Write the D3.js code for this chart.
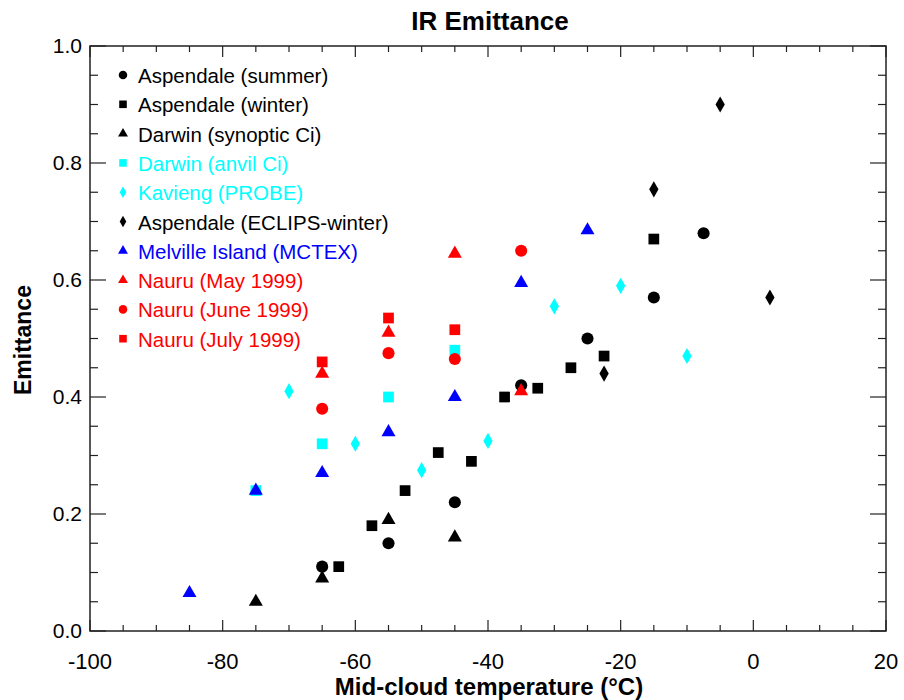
<!DOCTYPE html>
<html><head><meta charset="utf-8">
<script src="https://cdn.jsdelivr.net/npm/d3@7"></script>
<style>body{margin:0;background:#fff}svg{display:block}</style>
</head><body>
<script>
// ---- data ----
const xTicks = [-100, -80, -60, -40, -20, 0, 20];
const yTicks = [0.0, 0.2, 0.4, 0.6, 0.8, 1.0];
const seriesNames = ["Aspendale (summer)", "Aspendale (winter)", "Darwin (synoptic Ci)", "Darwin (anvil Ci)", "Kavieng (PROBE)", "Aspendale (ECLIPS-winter)", "Melville Island (MCTEX)", "Nauru (May 1999)", "Nauru (June 1999)", "Nauru (July 1999)"];
const seriesColors = ["#000000", "#000000", "#000000", "#00ffff", "#00ffff", "#000000", "#0000ff", "#ff0000", "#ff0000", "#ff0000"];
const seriesSymbols = ["circle", "square", "triangle", "square", "diamond", "diamond", "triangle", "triangle", "circle", "square"];

const aspendaleSummer = [[-65, 0.11], [-55, 0.15], [-45, 0.22], [-35, 0.42], [-25, 0.50], [-15, 0.57], [-7.5, 0.68]];
const aspendaleWinter = [[-62.5, 0.11], [-57.5, 0.18], [-52.5, 0.24], [-47.5, 0.305], [-42.5, 0.29], [-37.5, 0.40], [-32.5, 0.415], [-27.5, 0.45], [-22.5, 0.47], [-15, 0.67]];
const darwinSynoptic = [[-75, 0.05], [-65, 0.09], [-55, 0.19], [-45, 0.16]];
const darwinAnvil = [[-75, 0.24], [-65, 0.32], [-55, 0.40], [-45, 0.48]];
const kavieng = [[-70, 0.41], [-60, 0.32], [-50, 0.275], [-40, 0.325], [-30, 0.555], [-20, 0.59], [-10, 0.47]];
const aspendaleEclips = [[-22.5, 0.44], [-15, 0.755], [-5, 0.90], [2.5, 0.57]];
const melville = [[-85, 0.065], [-75, 0.24], [-65, 0.27], [-55, 0.34], [-45, 0.40], [-35, 0.595], [-25, 0.685]];
const nauruMay = [[-65, 0.44], [-55, 0.51], [-45, 0.645], [-35, 0.41]];
const nauruJune = [[-65, 0.38], [-55, 0.475], [-45, 0.465], [-35, 0.65]];
const nauruJuly = [[-65, 0.46], [-55, 0.535], [-45, 0.515]];
const seriesData = [aspendaleSummer, aspendaleWinter, darwinSynoptic, darwinAnvil, kavieng, aspendaleEclips, melville, nauruMay, nauruJune, nauruJuly];

// ---- layout ----
const W = 904, H = 700;
const L = 90, R = 886, T = 46, B = 631;
const svg = d3.select("body").append("svg").attr("width", W).attr("height", H);
const x = d3.scaleLinear().domain([-100, 20]).range([L, R]);
const y = d3.scaleLinear().domain([0, 1]).range([B, T]);
const FONT = "Liberation Sans, Arial, Helvetica, sans-serif";

const symType = {circle: d3.symbolCircle, square: d3.symbolSquare, triangle: d3.symbolTriangle, diamond: d3.symbolDiamond};
const symSize = {circle: 115, square: 115, triangle: 85, diamond: 75};
function sym(name, k) { return d3.symbol().type(symType[name]).size(symSize[name] * (k || 1))(); }

// frame
svg.append("rect").attr("x", L).attr("y", T).attr("width", R - L).attr("height", B - T)
  .attr("fill", "none").attr("stroke", "#222").attr("stroke-width", 1.5);

// ticks (inward, mirrored)
const xMinor = d3.range(-100, 20.01, 5);
const yMinor = d3.range(0, 1.001, 0.05);
const gt = svg.append("g").attr("stroke", "#222").attr("stroke-width", 1.2);
xMinor.forEach(v => {
  const major = Math.abs(v % 20) < 1e-6;
  const len = major ? 11 : 6;
  gt.append("line").attr("x1", x(v)).attr("x2", x(v)).attr("y1", B).attr("y2", B - len);
  gt.append("line").attr("x1", x(v)).attr("x2", x(v)).attr("y1", T).attr("y2", T + len);
});
yMinor.forEach(v => {
  const major = Math.abs(Math.round(v * 100) % 20) < 1e-6;
  const len = major ? 16 : 8;
  gt.append("line").attr("y1", y(v)).attr("y2", y(v)).attr("x1", L).attr("x2", L + len);
  gt.append("line").attr("y1", y(v)).attr("y2", y(v)).attr("x1", R).attr("x2", R - len);
});

// tick labels
svg.append("g").selectAll("text").data(xTicks).join("text")
  .attr("x", d => x(d)).attr("y", 669).attr("text-anchor", "middle")
  .attr("font-family", FONT).attr("font-size", 22)
  .attr("fill", "#000").text(d => d);
svg.append("g").selectAll("text").data(yTicks).join("text")
  .attr("x", 82).attr("y", d => y(d) + 7).attr("text-anchor", "end")
  .attr("font-family", FONT).attr("font-size", 21)
  .attr("fill", "#000").text(d => d.toFixed(1));

// titles
svg.append("text").attr("x", 490).attr("y", 30).attr("text-anchor", "middle")
  .attr("font-family", FONT).attr("font-weight", "bold")
  .attr("font-size", 26).text("IR Emittance");
svg.append("text").attr("x", 489).attr("y", 695).attr("text-anchor", "middle")
  .attr("font-family", FONT).attr("font-weight", "bold")
  .attr("font-size", 24).text("Mid-cloud temperature (°C)");
svg.append("text").attr("transform", "translate(31,340) rotate(-90)").attr("text-anchor", "middle")
  .attr("font-family", FONT).attr("font-weight", "bold")
  .attr("font-size", 23).text("Emittance");

// points
seriesData.forEach((data, i) => {
  svg.append("g").selectAll("path").data(data).join("path")
    .attr("d", sym(seriesSymbols[i]))
    .attr("transform", d => `translate(${x(d[0])},${y(d[1])})`)
    .attr("fill", seriesColors[i]);
});

// legend
const lg = svg.append("g");
seriesNames.forEach((n, i) => {
  const yy = 75 + i * 29.3;
  lg.append("path").attr("d", sym(seriesSymbols[i], 0.5))
    .attr("transform", `translate(123,${yy})`).attr("fill", seriesColors[i]);
  lg.append("text").attr("x", 138).attr("y", yy + 8).attr("font-family", FONT)
    .attr("font-size", 20.5).attr("fill", seriesColors[i]).text(n);
});
</script>
</body></html>
